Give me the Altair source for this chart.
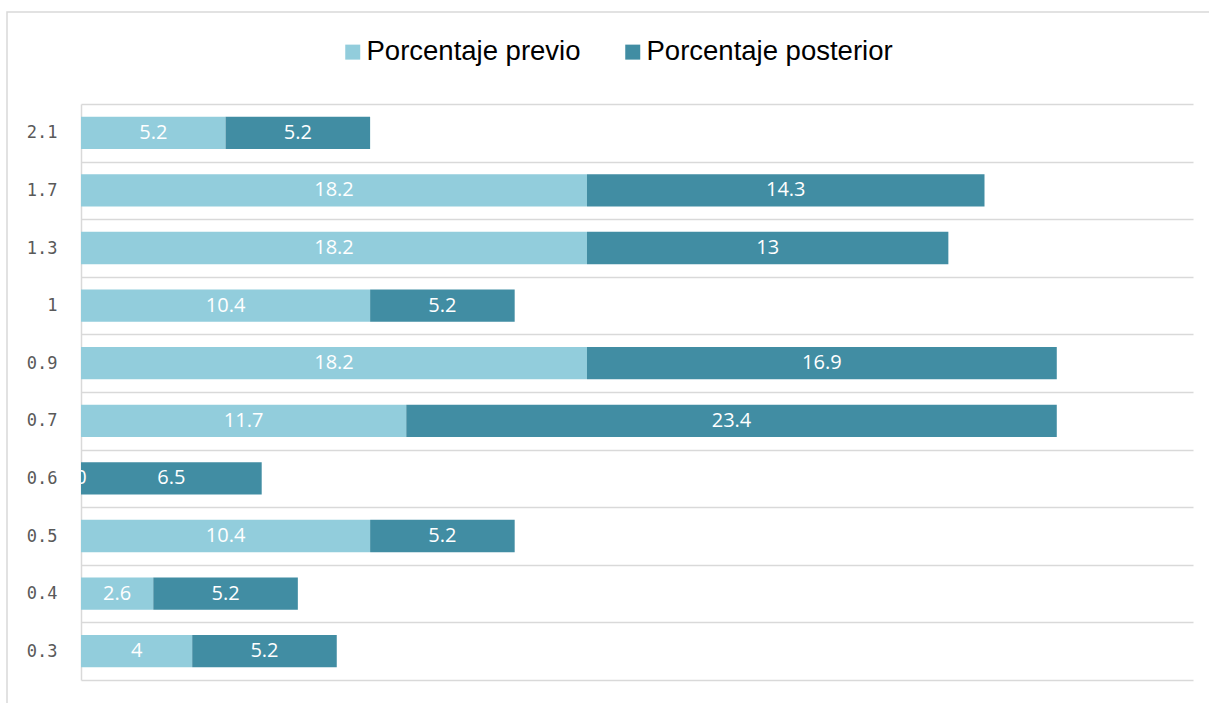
import altair as alt
import pandas as pd

categories = ["0.3", "0.4", "0.5", "0.6", "0.7", "0.9", "1", "1.3", "1.7", "2.1"]
previo = [4, 2.6, 10.4, 0, 11.7, 18.2, 10.4, 18.2, 18.2, 5.2]
posterior = [5.2, 5.2, 5.2, 6.5, 23.4, 16.9, 5.2, 13, 14.3, 5.2]
series = ["Porcentaje previo", "Porcentaje posterior"]
colors = ["#92CDDC", "#418DA3"]

rows = []
for c, a, b in zip(categories, previo, posterior):
    rows.append({"cat": c, "serie": series[0], "value": a, "ord": 0})
    rows.append({"cat": c, "serie": series[1], "value": b, "ord": 1})
df = pd.DataFrame(rows)

order_top_down = list(reversed(categories))

ysc = alt.Scale(domain=order_top_down, paddingInner=0, paddingOuter=0)
xsc = alt.Scale(domain=[0, 40], nice=False, zero=True)

base = alt.Chart(df).transform_stack(
    stack="value", groupby=["cat"], as_=["x0", "x1"],
    sort=[alt.SortField("ord", order="ascending")]
).transform_calculate(mid="(datum.x0 + datum.x1) / 2")

bars = base.mark_bar(height={"band": 0.56}).encode(
    y=alt.Y("cat:N", scale=ysc, title=None,
            axis=alt.Axis(tickBand="extent", grid=True, gridColor="#D9D9D9", gridWidth=1.5,
                          domainColor="#D9D9D9", domainWidth=1.5, ticks=False,
                          labelFont="DejaVu Sans Mono", labelFontSize=17,
                          labelColor="#595959", labelPadding=24)),
    x=alt.X("x0:Q", scale=xsc, axis=None),
    x2="x1:Q",
    color=alt.Color("serie:N", scale=alt.Scale(domain=series, range=colors),
                    title=None,
                    legend=alt.Legend(orient="none", direction="horizontal",
                                      legendX=258, legendY=-66, padding=0,
                                      symbolType="square", symbolSize=225,
                                      symbolStrokeWidth=0, symbolOpacity=1,
                                      labelFont="Liberation Sans", labelFontSize=27.5,
                                      labelColor="#000000", labelOffset=0,
                                      columnPadding=38, labelLimit=400)),
    order=alt.Order("ord:Q"),
)

texts = base.mark_text(color="white", font="Open Sans", fontSize=20,
                       baseline="middle", align="center", clip=True).encode(
    y=alt.Y("cat:N", scale=ysc),
    x=alt.X("mid:Q", scale=xsc),
    text=alt.Text("value:Q"),
)

border = alt.Chart(alt.Data(values=[{}])).mark_rect(
    fill=None, stroke="#D9D9D9", strokeWidth=1.5, clip=False
).encode(
    x=alt.value(-74), x2=alt.value(1200), y=alt.value(-92), y2=alt.value(650)
)

chart = alt.layer(border, bars, texts).properties(
    width=1112, height=576,
    autosize=alt.AutoSizeParams(type="none"),
    padding={"left": 81, "top": 104, "right": 16, "bottom": 23},
    background="white",
).configure_view(stroke=None)

chart.save("out.html", embed_options={"renderer": "svg", "actions": False})
